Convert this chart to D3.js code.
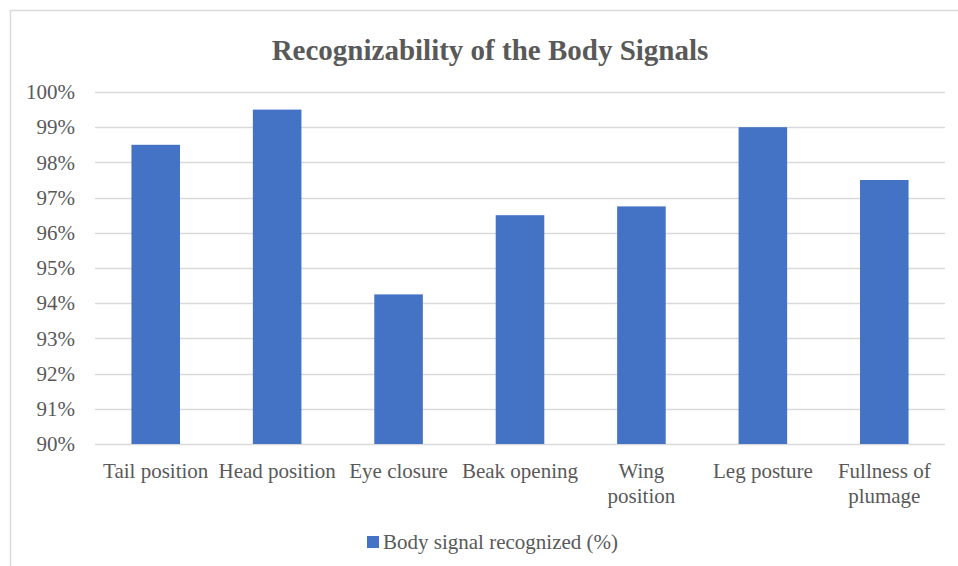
<!DOCTYPE html>
<html>
<head>
<meta charset="utf-8">
<script src="https://cdn.jsdelivr.net/npm/d3@7"></script>
<style>
  body { margin: 0; background: #fff; }
  svg { display: block; }
</style>
</head>
<body>
<div id="chart"></div>
<script>
const categories = [
  ['Tail position'],
  ['Head position'],
  ['Eye closure'],
  ['Beak opening'],
  ['Wing', 'position'],
  ['Leg posture'],
  ['Fullness of', 'plumage']
];
const values = [98.5, 99.5, 94.25, 96.5, 96.75, 99, 97.5];
const yTicks = [90, 91, 92, 93, 94, 95, 96, 97, 98, 99, 100];
const seriesName = 'Body signal recognized (%)';
const title = 'Recognizability of the Body Signals';

const width = 958, height = 566;
const margin = { top: 92, right: 13, bottom: 122, left: 95 };
const font = "'Liberation Serif', 'Times New Roman', serif";
const textColor = '#595959';
const barColor = '#4472C4';

const svg = d3.select('#chart').append('svg')
  .attr('width', width)
  .attr('height', height);

svg.append('rect').attr('width', width).attr('height', height).attr('fill', '#fff');

// outer chart border (only top/left visible in crop)
svg.append('path')
  .attr('d', `M10.5,${height + 5} V10.5 H${width + 5}`)
  .attr('fill', 'none')
  .attr('stroke', '#d9d9d9')
  .attr('stroke-width', 1.5);

const x = d3.scaleBand()
  .domain(categories.map((d, i) => i))
  .range([margin.left, width - margin.right])
  .paddingInner(0.6)
  .paddingOuter(0.3);

const y = d3.scaleLinear()
  .domain([90, 100])
  .range([height - margin.bottom, margin.top]);

// gridlines
svg.append('g')
  .selectAll('line')
  .data(yTicks)
  .enter()
  .append('line')
  .attr('x1', margin.left)
  .attr('x2', width - margin.right)
  .attr('y1', d => Math.round(y(d)) + 0.5)
  .attr('y2', d => Math.round(y(d)) + 0.5)
  .attr('stroke', '#d9d9d9')
  .attr('stroke-width', 1.3);

// y axis labels
const yAxis = d3.axisLeft(y)
  .tickValues(yTicks)
  .tickFormat(d => d + '%')
  .tickSize(0)
  .tickPadding(20);

svg.append('g')
  .attr('transform', `translate(${margin.left},0)`)
  .call(yAxis)
  .call(g => g.select('.domain').remove())
  .selectAll('text')
  .attr('fill', textColor)
  .style('font-family', font)
  .style('font-size', '21px');

// bars
svg.append('g')
  .selectAll('rect')
  .data(values)
  .enter()
  .append('rect')
  .attr('x', (d, i) => x(i))
  .attr('width', x.bandwidth())
  .attr('y', d => y(d))
  .attr('height', d => y(90) - y(d))
  .attr('fill', barColor);

// category labels
const catG = svg.append('g');
categories.forEach((lines, i) => {
  const t = catG.append('text')
    .attr('x', x(i) + x.bandwidth() / 2)
    .attr('y', y(90) + 34)
    .attr('text-anchor', 'middle')
    .attr('fill', textColor)
    .style('font-family', font)
    .style('font-size', '21px');
  lines.forEach((ln, j) => {
    t.append('tspan')
      .attr('x', x(i) + x.bandwidth() / 2)
      .attr('dy', j === 0 ? 0 : 25)
      .text(ln);
  });
});

// title
svg.append('text')
  .attr('x', 490)
  .attr('y', 60)
  .attr('text-anchor', 'middle')
  .attr('fill', textColor)
  .style('font-family', font)
  .style('font-size', '29px')
  .style('font-weight', 'bold')
  .text(title);

// legend
const legend = svg.append('g').attr('transform', 'translate(367,536)');
legend.append('rect')
  .attr('width', 12)
  .attr('height', 12)
  .attr('fill', barColor);
legend.append('text')
  .attr('x', 16)
  .attr('y', 13)
  .attr('fill', textColor)
  .style('font-family', font)
  .style('font-size', '21px')
  .text(seriesName);
</script>
</body>
</html>
